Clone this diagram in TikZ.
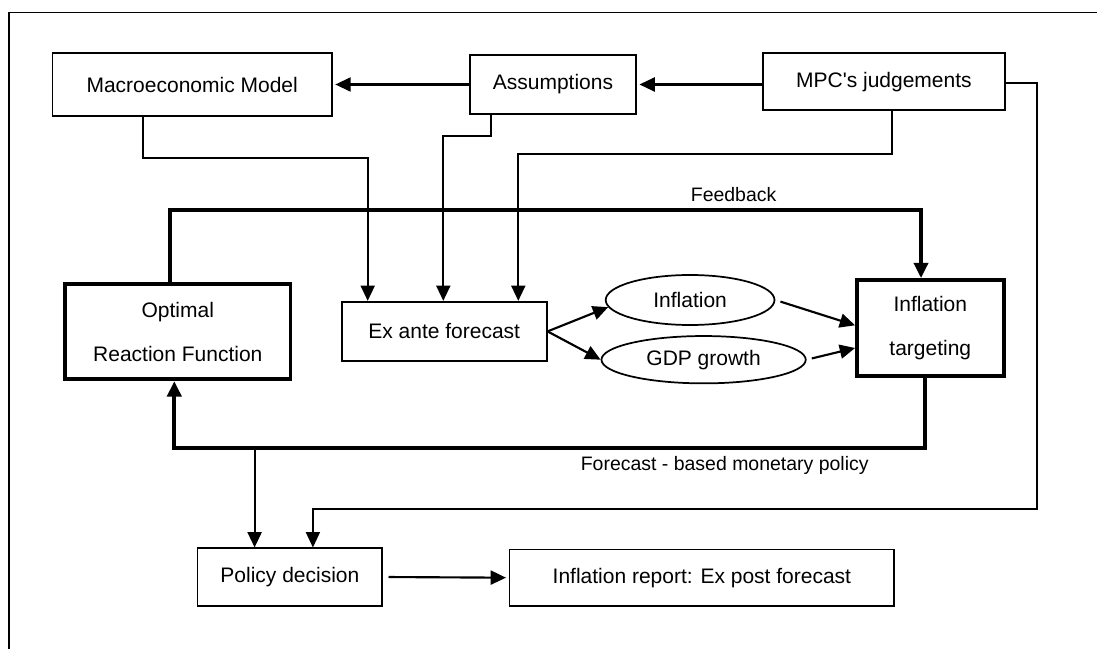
\documentclass[tikz,border=0pt]{standalone}
\usepackage{fontspec}
\setmainfont{Liberation Sans}
\usetikzlibrary{arrows.meta,shapes.geometric}
\begin{document}
\begin{tikzpicture}[x=0.75pt,y=-0.75pt,
  box/.style={draw,line width=1.3pt,rectangle,inner sep=0pt,font=\fontsize{15.75}{19}\selectfont},
  tbox/.style={draw,line width=2.8pt,rectangle,inner sep=0pt,align=center,font=\fontsize{15.75}{33}\selectfont},
  oval/.style={draw,line width=1.3pt,ellipse,inner sep=0pt,font=\fontsize{15.75}{19}\selectfont},
  lbl/.style={font=\fontsize{14.6}{17}\selectfont,inner sep=0pt},
  tip/.style={-{Triangle[length=11.5pt,width=10.5pt]}},
  arr/.style={tip,line width=1.6pt},
  thinarr/.style={tip,line width=1.3pt},
  thickarr/.style={tip,line width=3pt}
]
\useasboundingbox (0,0) rectangle (1097,649);
% frame
\draw[line width=1.2pt] (8.8,660) -- (8.8,12.7) -- (1110,12.7);

% nodes
\node[box,minimum width=209.4pt,minimum height=46.8pt] (macro) at (192.2,84.5) {Macroeconomic Model};
\node[box,minimum width=124.4pt,minimum height=43.8pt] (assump) at (553,84.5) {Assumptions};
\node[box,minimum width=181.2pt,minimum height=42.5pt] (mpc) at (883.9,81.7) {MPC\textquotesingle s judgements};
\node[tbox,minimum width=168.9pt,minimum height=71.25pt] (opt) at (177.8,331.8) {Optimal\\Reaction Function};
\node[box,minimum width=153.75pt,minimum height=44.5pt] (exante) at (444.2,331.4) {Ex ante forecast};
\node[tbox,minimum width=110pt,minimum height=72pt] (it) at (930.3,328) {Inflation\\targeting};
\node[oval,minimum width=126.6pt,minimum height=37.5pt] (infl) at (690.1,300) {Inflation};
\node[oval,minimum width=153.2pt,minimum height=35.5pt] (gdp) at (703.6,359.7) {GDP growth};
\node[box,minimum width=138.6pt,minimum height=43pt] (policy) at (289.9,577) {Policy decision};
\node[box,minimum width=288.5pt,minimum height=42.5pt] (report) at (701.9,577.7) {Inflation report: Ex post forecast};

\node[lbl] (fblabel) at (733.6,195) {Feedback};
\node[lbl] (fclabel) at (724.7,465) {Forecast - based monetary policy};

% lane coordinates
\coordinate (a1) at (143.1,158.3); \coordinate (a2) at (367.7,158.3);
\coordinate (b1) at (491,136.3);   \coordinate (b2) at (443.3,136.3);
\coordinate (c1) at (891.7,154.3); \coordinate (c2) at (518.3,154.3);
\coordinate (fbL) at (170.1,210);  \coordinate (fbR) at (921,210);
\coordinate (fcR) at (924.7,448.3); \coordinate (fcL) at (174.3,448.3);
\coordinate (pd) at (254.6,448.3);
\coordinate (m1) at (1037.3,83.3); \coordinate (m2) at (1037.3,509.3); \coordinate (m3) at (312.9,509.3);

% top arrows
\draw[arr,shorten >=2pt] (assump.west) -- (macro.east);
\draw[arr,shorten >=2pt] (mpc.west |- assump.east) -- (assump.east);

% into ex ante
\draw[arr] (macro.south -| a1) -- (a1) -- (a2) -- (a2 |- exante.north);
\draw[arr] (assump.south -| b1) -- (b1) -- (b2) -- (b2 |- exante.north);
\draw[arr] (mpc.south -| c1) -- (c1) -- (c2) -- (c2 |- exante.north);

% feedback
\draw[thickarr] (opt.north -| fbL) -- (fbL) -- (fbR) -- (fbR |- it.north);

% ex ante to ellipses
\draw[arr] (exante.east) -- (infl.185);
\draw[arr] (exante.east) -- (gdp.west);
\draw[arr,shorten <=4pt] (infl.east) -- ([yshift=2pt]it.west);
\draw[arr,shorten <=4pt] (gdp.east) -- ([yshift=-15pt]it.west);

% forecast based
\draw[thickarr] (it.south -| fcR) -- (fcR) -- (fcL) -- (fcL |- opt.south);
\draw[arr] (pd) -- (pd |- policy.north);

% MPC to policy
\draw[thinarr] (mpc.east |- m1) -- (m1) -- (m2) -- (m3) -- (m3 |- policy.north);

% policy to report
\draw[arr,shorten <=4pt,shorten >=2pt] (policy.east) -- (report.west);
\end{tikzpicture}
\end{document}
